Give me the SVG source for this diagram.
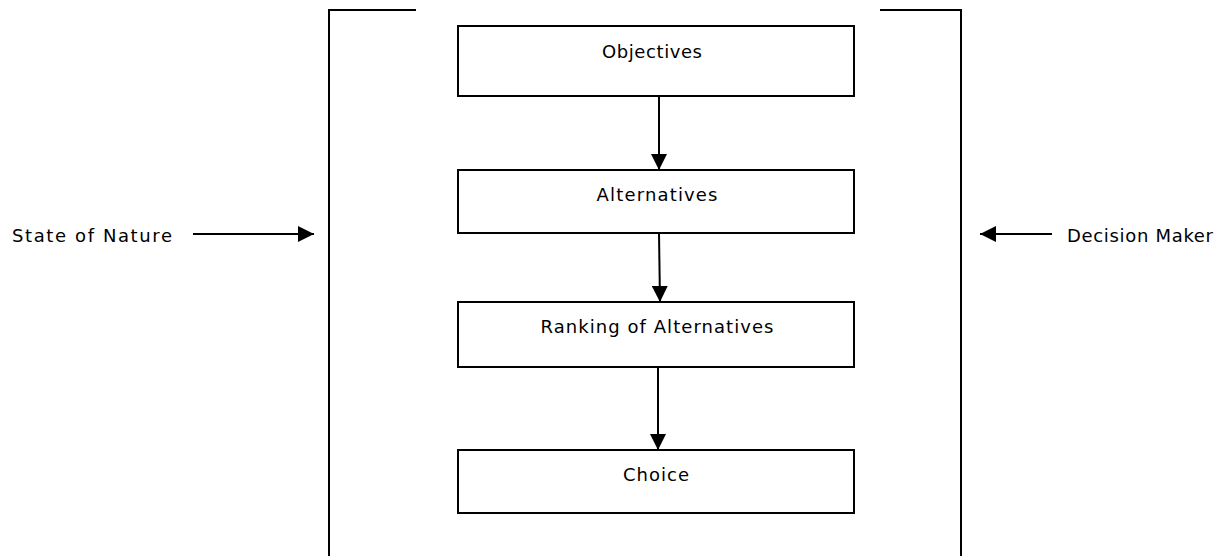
<svg xmlns="http://www.w3.org/2000/svg" width="1222" height="556" viewBox="0 0 1222 556">
<style>
.box{fill:#fff;stroke:#000;stroke-width:2}
.ln{fill:none;stroke:#000;stroke-width:2}
.t{font-family:"Comic Sans MS","DejaVu Sans",sans-serif;font-size:18px;fill:#000}
.m{text-anchor:middle}
</style>
<defs>
<marker id="ah" markerWidth="16" markerHeight="16" refX="16" refY="8" orient="auto" markerUnits="userSpaceOnUse">
<path d="M0,0 L16,8 L0,16 Z" fill="#000"/>
</marker>
</defs>
<g id="frame">
<polyline class="ln" points="416,10 329,10 329,556"/>
<polyline class="ln" points="880,10 961,10 961,556"/>
</g>
<g id="objectives"><rect class="box" x="458" y="26" width="396" height="70"/><text class="t m" x="652" y="58" textLength="100">Objectives</text></g>
<g id="alternatives"><rect class="box" x="458" y="170" width="396" height="63"/><text class="t m" x="657" y="201" textLength="121">Alternatives</text></g>
<g id="ranking"><rect class="box" x="458" y="302" width="396" height="65"/><text class="t m" x="657" y="333" textLength="233">Ranking of Alternatives</text></g>
<g id="choice"><rect class="box" x="458" y="450" width="396" height="63"/><text class="t m" x="656" y="481" textLength="66">Choice</text></g>
<g id="state"><text class="t" x="12" y="242" textLength="160">State of Nature</text></g>
<g id="maker"><text class="t" x="1067" y="242" textLength="146">Decision Maker</text></g>
<g id="connectors">
<line class="ln" x1="659" y1="96" x2="659" y2="170" marker-end="url(#ah)"/>
<line class="ln" x1="659" y1="233" x2="660" y2="302" marker-end="url(#ah)"/>
<line class="ln" x1="658" y1="367" x2="658" y2="450" marker-end="url(#ah)"/>
<line class="ln" x1="193" y1="234" x2="314" y2="234" marker-end="url(#ah)"/>
<line class="ln" x1="1052" y1="234" x2="980" y2="234" marker-end="url(#ah)"/>
</g>
</svg>
